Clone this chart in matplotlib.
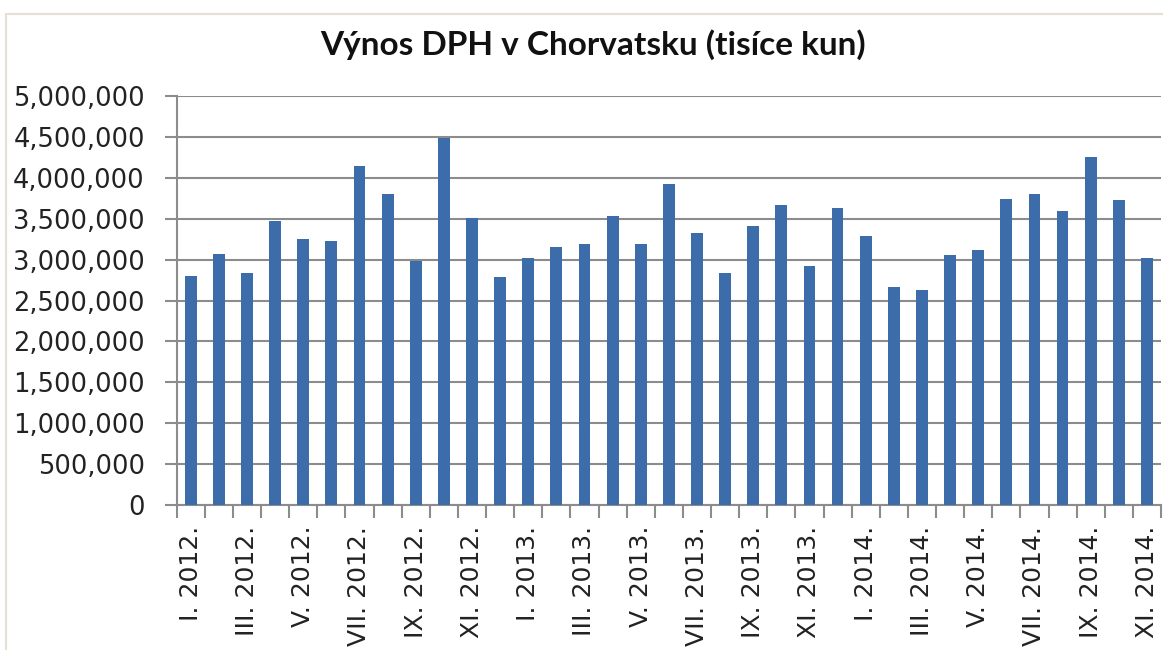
import matplotlib
matplotlib.use("Agg")
import matplotlib.pyplot as plt
from matplotlib.patches import Rectangle
from matplotlib.ticker import FuncFormatter

# monthly VAT revenue, Jan 2012 - Nov 2014 (thousand kuna)
months = ["I.", "II.", "III.", "IV.", "V.", "VI.", "VII.", "VIII.", "IX.", "X.", "XI.", "XII."]
years = ["2012.", "2013.", "2014."]
labels = [m + " " + y for y in years for m in months][:35]

values_2012 = [2803000, 3065000, 2832000, 3476000, 3256000, 3231000,
               4140000, 3798000, 2983000, 4483000, 3509000, 2791000]
values_2013 = [3016000, 3158000, 3191000, 3533000, 3187000, 3928000,
               3329000, 2840000, 3411000, 3667000, 2922000, 3635000]
values_2014 = [3289000, 2661000, 2632000, 3056000, 3114000, 3737000,
               3798000, 3594000, 4250000, 3729000, 3016000]
values = values_2012 + values_2013 + values_2014

bar_color = "#3D6CAB"
grid_color = "#8C8C8C"

fig = plt.figure(figsize=(11.63, 6.5), dpi=100)
fig.patches.append(Rectangle((6 / 1163, -0.01), 1.02, 1 - 14 / 650 + 0.01,
                             transform=fig.transFigure, fill=False,
                             edgecolor="#E6E0D2", linewidth=1.5))

ax = fig.add_axes([176.7 / 1163, 1 - 505 / 650, (1161 - 176.7) / 1163, (505 - 96) / 650])

x = list(range(len(values)))
ax.bar(x, values, width=0.42, color=bar_color, zorder=3)

ax.set_xlim(-0.5, len(values) - 0.5)
ax.set_ylim(0, 5000000)
ax.set_yticks(range(0, 5000001, 500000))
ax.yaxis.set_major_formatter(FuncFormatter(lambda v, p: f"{int(v):,}"))
ax.grid(axis="y", color=grid_color, linewidth=1.5, zorder=0)

# tick marks between categories, labels on every other bar
ax.set_xticks([i - 0.5 for i in range(len(values) + 1)])
ax.set_xticklabels([])
ax.set_xticks(x[::2], labels[::2], minor=True)
ax.tick_params(axis="x", which="major", length=9, width=1.5, color=grid_color, direction="out")
ax.tick_params(axis="x", which="minor", length=0, pad=15, labelsize=18, labelrotation=90,
               labelcolor="#222222")
ax.tick_params(axis="y", length=9, width=1.5, color=grid_color, pad=14, labelsize=18.5,
               labelcolor="#222222")

for side in ["top", "right"]:
    ax.spines[side].set_visible(False)
for side in ["left", "bottom"]:
    ax.spines[side].set_color(grid_color)
    ax.spines[side].set_linewidth(1.5)

fig.text(593 / 1163, 1 - 45 / 650, "Výnos DPH v Chorvatsku (tisíce kun)",
         ha="center", va="center", fontsize=24, fontweight="bold",
         family=["Lato", "DejaVu Sans"], color="#111111")

fig.savefig("out.png", dpi=100, facecolor="white")
